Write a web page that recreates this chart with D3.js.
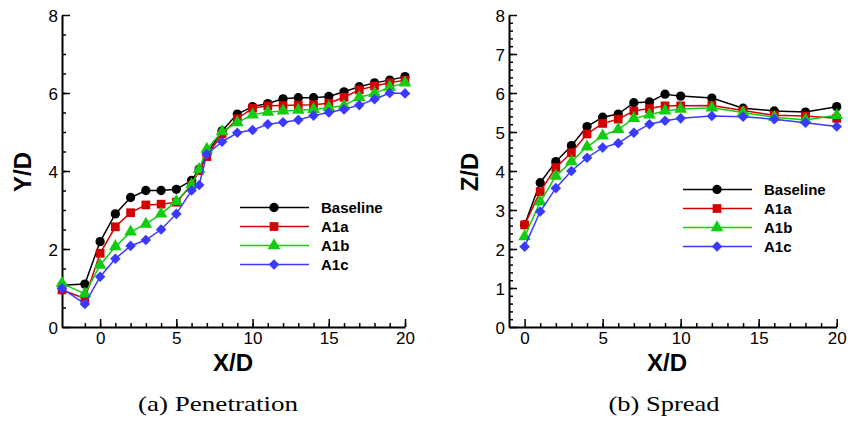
<!DOCTYPE html>
<html>
<head>
    <meta charset="utf-8">
    <title>penetration-spread</title>
    <script src="https://cdn.jsdelivr.net/npm/d3@7"></script>
    <style type="text/css">
        body { margin: 0; background: #ffffff; }
        svg text { font-family: "Liberation Sans", Arial, sans-serif; }
        .axis path, .axis line { stroke: #000000; }
        .axis text { font-family: "Liberation Sans", Arial, sans-serif; font-size: 17px; fill: #000000; }
        .axisTitle { font-size: 24px; font-weight: bold; }
        .legendLabel { font-size: 15px; font-weight: bold; }
        svg text.caption { font-family: "Liberation Serif", serif; font-size: 22px; }
    </style>
</head>
<body>
<div id="mysvg"></div>
<script>
// (a) Penetration
var penX = [-2.5, -1, 0, 1, 2, 3, 4, 5, 6, 6.5, 7, 8, 9, 10, 11, 12, 13, 14, 15, 16, 17, 18, 19, 20];
var penBaseline = [1.07, 1.10, 2.19, 2.90, 3.32, 3.50, 3.50, 3.53, 3.76, 4.05, 4.44, 5.03, 5.46, 5.65, 5.73, 5.85, 5.88, 5.88, 5.91, 6.03, 6.16, 6.26, 6.33, 6.42];
var penA1a     = [0.95, 0.73, 1.89, 2.57, 2.93, 3.13, 3.15, 3.20, 3.64, 4.01, 4.37, 4.95, 5.34, 5.61, 5.67, 5.68, 5.69, 5.70, 5.74, 5.89, 6.08, 6.18, 6.26, 6.33];
var penA1b     = [1.12, 0.85, 1.59, 2.06, 2.44, 2.64, 2.90, 3.22, 3.65, 4.04, 4.56, 5.01, 5.24, 5.44, 5.51, 5.54, 5.56, 5.58, 5.63, 5.67, 5.89, 5.99, 6.15, 6.26];
var penA1c     = [0.99, 0.59, 1.29, 1.75, 2.08, 2.23, 2.50, 2.90, 3.50, 3.64, 4.43, 4.75, 4.98, 5.05, 5.20, 5.25, 5.31, 5.42, 5.50, 5.58, 5.69, 5.84, 6.00, 5.99];

// (b) Spread
var sprX = [0, 1, 2, 3, 4, 5, 6, 7, 8, 9, 10, 12, 14, 16, 18, 20];
var sprBaseline = [2.62, 3.70, 4.24, 4.65, 5.14, 5.38, 5.46, 5.75, 5.77, 5.97, 5.92, 5.87, 5.61, 5.54, 5.51, 5.65];
var sprA1a      = [2.62, 3.47, 4.09, 4.47, 4.95, 5.22, 5.33, 5.54, 5.60, 5.67, 5.67, 5.68, 5.55, 5.43, 5.41, 5.35];
var sprA1b      = [2.32, 3.21, 3.87, 4.24, 4.62, 4.90, 5.07, 5.35, 5.44, 5.54, 5.59, 5.62, 5.50, 5.38, 5.31, 5.43];
var sprA1c      = [2.06, 2.96, 3.56, 4.00, 4.34, 4.60, 4.71, 4.98, 5.20, 5.29, 5.35, 5.41, 5.39, 5.33, 5.24, 5.14];

var seriesNames = ['Baseline', 'A1a', 'A1b', 'A1c'];
var seriesColors = ['#000000', '#d40000', '#11cc11', '#3a3aff'];
var seriesSymbols = [d3.symbolCircle, d3.symbolSquare, d3.symbolTriangle, d3.symbolSquare];
var symbolSizes = [68, 76, 70, 56];
var symbolRotate = [0, 0, 0, 45];  // diamond = square turned 45 degrees

var xMajor = [0, 5, 10, 15, 20];

var width = 848, height = 425;
var mysvg = d3.select('#mysvg').append('svg')
              .attr('width', width).attr('height', height);

function drawPanel(cfg) {
    var x = d3.scaleLinear().domain(cfg.xDomain).range(cfg.xRange);
    var y = d3.scaleLinear().domain([0, 8]).range([327, 15]);
    var g = mysvg.append('g');

    // minor ticks
    g.append('g').attr('class', 'axis')
     .attr('transform', 'translate(0,' + y(0) + ')')
     .call(d3.axisBottom(x).tickValues(cfg.xMinor).tickSize(-4).tickFormat(''))
     .call(function(a) { a.select('.domain').remove(); })
     .selectAll('line').attr('stroke-width', 1.5);
    g.append('g').attr('class', 'axis')
     .attr('transform', 'translate(' + cfg.xRange[0] + ',0)')
     .call(d3.axisLeft(y).tickValues(cfg.yMinor).tickSize(-4).tickFormat(''))
     .call(function(a) { a.select('.domain').remove(); })
     .selectAll('line').attr('stroke-width', 1.5);

    // major ticks
    var xa = g.append('g').attr('class', 'axis')
              .attr('transform', 'translate(0,' + y(0) + ')')
              .call(d3.axisBottom(x).tickValues(xMajor).tickSize(-8).tickSizeOuter(0).tickPadding(5));
    xa.select('.domain').attr('stroke-width', 2);
    xa.selectAll('line').attr('stroke-width', 1.5);
    var ya = g.append('g').attr('class', 'axis')
              .attr('transform', 'translate(' + cfg.xRange[0] + ',0)')
              .call(d3.axisLeft(y).tickValues(cfg.yMajor).tickSize(-8).tickSizeOuter(0).tickPadding(4));
    ya.select('.domain').attr('stroke-width', 2);
    ya.selectAll('line').attr('stroke-width', 1.5);
    ya.selectAll('text').attr('dy', '0.36em');

    // axis titles
    g.append('text').attr('class', 'axisTitle')
     .attr('text-anchor', 'middle')
     .attr('x', cfg.titleX).attr('y', 371)
     .text('X/D');
    g.append('text').attr('class', 'axisTitle')
     .attr('text-anchor', 'middle')
     .attr('transform', 'translate(' + cfg.yTitleX + ',172) rotate(-90)')
     .text(cfg.yTitle);

    // series
    var line = d3.line()
                 .x(function(d) { return x(d[0]); })
                 .y(function(d) { return y(d[1]); });

    cfg.series.forEach(function(vals, i) {
        var pts = cfg.xs.map(function(xv, j) { return [xv, vals[j]]; });
        g.append('path')
         .datum(pts)
         .attr('fill', 'none')
         .attr('stroke', seriesColors[i])
         .attr('stroke-width', 1.5)
         .attr('d', line);
        g.selectAll('.m' + i)
         .data(pts)
         .enter().append('path')
         .attr('transform', function(d) {
             return 'translate(' + x(d[0]) + ',' + y(d[1]) + ') rotate(' + symbolRotate[i] + ')';
         })
         .attr('d', d3.symbol().type(seriesSymbols[i]).size(symbolSizes[i]))
         .attr('fill', seriesColors[i]);
    });

    // legend
    var legend = g.selectAll('.legend')
                  .data(seriesNames)
                  .enter().append('g')
                  .attr('transform', function(d, i) { return 'translate(0,' + (cfg.legendY + i * 19) + ')'; });
    legend.append('line')
          .attr('x1', cfg.legendX).attr('x2', cfg.legendX + 69)
          .attr('y1', 0).attr('y2', 0)
          .attr('stroke', function(d, i) { return seriesColors[i]; })
          .attr('stroke-width', 1.5);
    legend.append('path')
          .attr('transform', function(d, i) {
              return 'translate(' + (cfg.legendX + 34) + ',0) rotate(' + symbolRotate[i] + ')';
          })
          .attr('d', function(d, i) { return d3.symbol().type(seriesSymbols[i]).size(symbolSizes[i])(); })
          .attr('fill', function(d, i) { return seriesColors[i]; });
    legend.append('text')
          .attr('class', 'legendLabel')
          .attr('x', cfg.legendX + 81).attr('y', 0).attr('dy', '0.36em')
          .text(function(d) { return d; });

    // caption
    g.append('text').attr('class', 'caption')
     .attr('text-anchor', 'middle')
     .attr('x', cfg.captionX).attr('y', 411)
     .attr('textLength', cfg.captionW).attr('lengthAdjust', 'spacingAndGlyphs')
     .text(cfg.caption);
}

drawPanel({
    xs: penX, series: [penBaseline, penA1a, penA1b, penA1c],
    xDomain: [-2.5, 20], xRange: [62, 405],
    xMinor: d3.range(-1, 21, 1), yMajor: [0, 2, 4, 6, 8], yMinor: d3.range(0.5, 8, 0.5),
    titleX: 233, yTitle: 'Y/D', yTitleX: 31,
    legendX: 240, legendY: 207.5,
    caption: '(a) Penetration', captionX: 218, captionW: 160
});

drawPanel({
    xs: sprX, series: [sprBaseline, sprA1a, sprA1b, sprA1c],
    xDomain: [-1, 20], xRange: [509, 836.7],
    xMinor: d3.range(1, 21, 1), yMajor: [0, 1, 2, 3, 4, 5, 6, 7, 8], yMinor: d3.range(0.2, 8, 0.2),
    titleX: 667, yTitle: 'Z/D', yTitleX: 478,
    legendX: 683, legendY: 189.5,
    caption: '(b) Spread', captionX: 664, captionW: 111
});
</script>
</body>
</html>
